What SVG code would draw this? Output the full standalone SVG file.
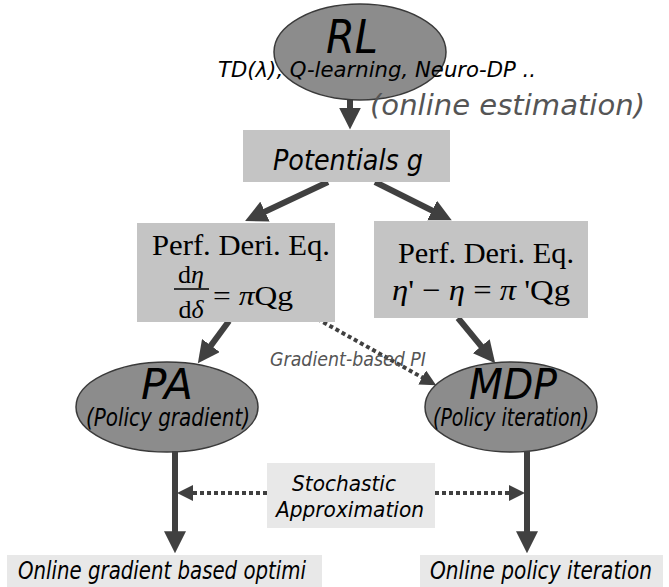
<svg xmlns="http://www.w3.org/2000/svg" width="669" height="587" viewBox="0 0 669 587">
<defs>
<marker id="ah" viewBox="0 0 10 10" refX="2" refY="5" markerWidth="22" markerHeight="22" markerUnits="userSpaceOnUse" orient="auto"><path d="M0,0 L10,5 L0,10 z" fill="#404040"/></marker>
<marker id="ahd" viewBox="0 0 10 10" refX="2" refY="5" markerWidth="16" markerHeight="16" markerUnits="userSpaceOnUse" orient="auto"><path d="M0,0 L10,5 L0,10 z" fill="#404040"/></marker>
</defs>
<style>
.ell{fill:#8c8c8c;stroke:#3a3a3a;stroke-width:1.5}
.box{fill:#c4c4c4}
.lbox{fill:#e8e8e8}
.sans{font-family:"DejaVu Sans Condensed","DejaVu Sans",sans-serif;font-style:italic;fill:#000}
.serif{font-family:"Liberation Serif","Times New Roman",serif;fill:#000}
.solid{stroke:#404040;stroke-width:6;fill:none;marker-end:url(#ah)}
.dot{stroke:#404040;stroke-width:4;stroke-dasharray:4 3;fill:none;marker-end:url(#ahd)}
.gray{fill:#555}
</style>
<rect width="669" height="587" fill="#fff"/>
<g id="connectors">
<line class="solid" x1="350" y1="98" x2="350" y2="112"/>
<line class="solid" x1="328" y1="182" x2="261" y2="213.5"/>
<line class="solid" x1="375" y1="182" x2="436" y2="212.5"/>
<line class="solid" x1="229" y1="321" x2="208.3" y2="349.1"/>
<line class="solid" x1="458" y1="318" x2="484" y2="349.6"/>
<line class="dot" x1="305" y1="312" x2="425" y2="379"/>
</g>
<g id="RL">
<ellipse class="ell" cx="360" cy="52" rx="86" ry="48"/>
<text class="sans" x="352" y="53" font-size="46" text-anchor="middle" textLength="52" lengthAdjust="spacingAndGlyphs">RL</text>
</g>
<g id="rl-methods">
<text class="sans" x="218" y="77" font-size="22" textLength="318" lengthAdjust="spacingAndGlyphs">TD(λ), Q-learning, Neuro-DP ..</text>
<text class="sans gray" x="370" y="115" font-size="29" textLength="275" lengthAdjust="spacingAndGlyphs">(online estimation)</text>
</g>
<g id="potentials">
<rect class="box" x="243" y="130" width="207" height="52"/>
<text class="sans" x="348" y="170" font-size="29" text-anchor="middle" textLength="150" lengthAdjust="spacingAndGlyphs">Potentials g</text>
</g>
<g id="perf-left">
<rect class="box" x="137" y="223" width="198" height="99"/>
<text class="serif" x="152" y="255" font-size="30" textLength="178" lengthAdjust="spacingAndGlyphs">Perf. Deri. Eq.</text>
<text class="serif" x="191" y="283" font-size="26" text-anchor="middle">d<tspan font-style="italic">η</tspan></text>
<line x1="174" y1="289" x2="209" y2="289" stroke="#000" stroke-width="1.3"/>
<text class="serif" x="191" y="318" font-size="26" text-anchor="middle">d<tspan font-style="italic">δ</tspan></text>
<text class="serif" x="213" y="305" font-size="28" textLength="80" lengthAdjust="spacingAndGlyphs">= <tspan font-style="italic">π</tspan>Qg</text>
</g>
<g id="perf-right">
<rect class="box" x="374" y="221" width="214" height="97"/>
<text class="serif" x="398" y="263" font-size="30" textLength="176" lengthAdjust="spacingAndGlyphs">Perf. Deri. Eq.</text>
<text class="serif" x="392" y="300" font-size="30" textLength="178" lengthAdjust="spacingAndGlyphs"><tspan font-style="italic">η</tspan>' − <tspan font-style="italic">η</tspan> = <tspan font-style="italic">π</tspan> 'Qg</text>
</g>
<g id="gradient-pi">
<text class="sans gray" x="270" y="366" font-size="19" textLength="156" lengthAdjust="spacingAndGlyphs">Gradient-based PI</text>
</g>
<g id="PA">
<ellipse class="ell" cx="167" cy="407" rx="91" ry="45"/>
<text class="sans" x="167" y="399" font-size="42" text-anchor="middle" textLength="52" lengthAdjust="spacingAndGlyphs">PA</text>
<text class="sans" x="168" y="426" font-size="24" text-anchor="middle" textLength="164" lengthAdjust="spacingAndGlyphs">(Policy gradient)</text>
</g>
<g id="MDP">
<ellipse class="ell" cx="511" cy="407" rx="86" ry="45"/>
<text class="sans" x="513" y="399" font-size="42" text-anchor="middle" textLength="88" lengthAdjust="spacingAndGlyphs">MDP</text>
<text class="sans" x="511" y="426" font-size="24" text-anchor="middle" textLength="156" lengthAdjust="spacingAndGlyphs">(Policy iteration)</text>
</g>
<g id="connectors-bottom">
<line class="solid" x1="175" y1="451" x2="175" y2="535.7"/>
<line class="solid" x1="527" y1="451" x2="527" y2="535.7"/>
<line class="dot" x1="267" y1="493" x2="189.8" y2="493"/>
<line class="dot" x1="435" y1="493" x2="512.2" y2="493"/>
</g>
<g id="stochastic">
<rect class="lbox" x="267" y="463" width="168" height="65"/>
<text class="sans" x="344" y="491" font-size="22" text-anchor="middle" textLength="104" lengthAdjust="spacingAndGlyphs">Stochastic</text>
<text class="sans" x="350" y="517" font-size="22" text-anchor="middle" textLength="148" lengthAdjust="spacingAndGlyphs">Approximation</text>
</g>
<g id="online-gradient">
<rect class="lbox" x="7" y="555" width="315" height="40"/>
<text class="sans" x="18" y="579" font-size="25" textLength="288" lengthAdjust="spacingAndGlyphs">Online gradient based optimi</text>
</g>
<g id="online-pi">
<rect class="lbox" x="420" y="555" width="243" height="40"/>
<text class="sans" x="430" y="579" font-size="25" textLength="222" lengthAdjust="spacingAndGlyphs">Online policy iteration</text>
</g>
</svg>
